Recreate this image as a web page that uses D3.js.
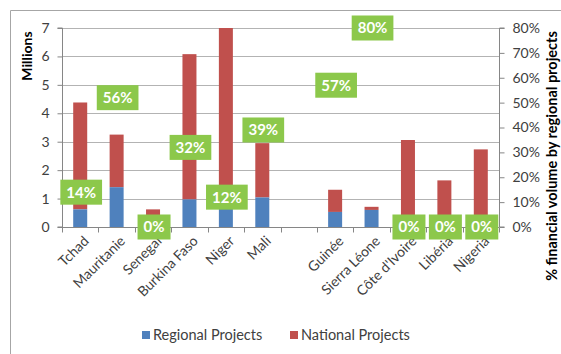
<!DOCTYPE html>
<html><head><meta charset="utf-8">
<script src="https://cdn.jsdelivr.net/npm/d3@7"></script>
<style>body{margin:0;background:#fff;overflow:hidden}svg{display:block}</style>
</head><body><svg id="c" width="561" height="354"></svg>
<script>
const categories = ["Tchad","Mauritanie","Senegal","Burkina Faso","Niger","Mali","","Guinée","Sierra Léone","Côte d'Ivoire","Libéria","Nigeria"];
const regional = [0.62, 1.40, 0, 0.97, 0.80, 1.04, null, 0.53, 0.60, 0, 0, 0];
const total    = [4.38, 3.25, 0.62, 6.08, 7.00, 2.95, null, 1.31, 0.71, 3.06, 1.64, 2.73];
const pctLabels = ["14%","56%","0%","32%","12%","39%",null,"57%","80%","0%","0%","0%"];
const pctPoints = [0.14, 0.52, 0, 0.32, 0.12, 0.39, null, 0.57, 0.80, 0, 0, 0];
const leftTicks = [0,1,2,3,4,5,6,7];
const rightTicks = [0,0.1,0.2,0.3,0.4,0.5,0.6,0.7,0.8];

const FONT = "Lato, 'Open Sans', sans-serif";
const svg = d3.select("#c");
const L = 62, R = 499, T = 28, B = 227;

// frame
svg.append("path").attr("d","M10.5,354 V10.5 H561").attr("fill","none").attr("stroke","#a6a6a6").attr("stroke-width",1);

const x = d3.scaleBand().domain(d3.range(categories.length)).range([L, R]);
const y = d3.scaleLinear().domain([0, 7]).range([B, T]);
const y2 = d3.scaleLinear().domain([0, 0.8]).range([B, T]);

// gridlines
svg.append("g").selectAll("line").data(leftTicks.filter(d => d > 0)).join("line")
  .attr("x1", L).attr("x2", R).attr("y1", d => Math.round(y(d)) + 0.5).attr("y2", d => Math.round(y(d)) + 0.5)
  .attr("stroke", "#b3b3b3");

// bars
const bw = 14;
const data = categories.map((c, i) => ({i, c, reg: regional[i], tot: total[i]})).filter(d => d.tot != null);
svg.append("g").selectAll("rect").data(data).join("rect")
  .attr("x", d => x(d.i) + x.bandwidth()/2 - bw/2).attr("width", bw)
  .attr("y", d => y(d.tot)).attr("height", d => y(d.reg) - y(d.tot))
  .attr("fill", "#c0504d");
svg.append("g").selectAll("rect").data(data.filter(d => d.reg > 0)).join("rect")
  .attr("x", d => x(d.i) + x.bandwidth()/2 - bw/2).attr("width", bw)
  .attr("y", d => y(d.reg)).attr("height", d => y(0) - y(d.reg))
  .attr("fill", "#4f81bd");

// left axis
const gl = svg.append("g").attr("transform", `translate(${L + 0.5},0)`)
  .call(d3.axisLeft(y).tickValues(leftTicks).tickSize(5).tickPadding(8).tickFormat(d3.format("d")));
gl.select(".domain").attr("stroke", "#868686").attr("d", `M-5,${B}H0V${T}H-5`);
gl.selectAll(".tick line").attr("stroke", "#868686");
gl.selectAll(".tick text").attr("font-family", FONT).attr("font-size", 14).attr("fill", "#404040");

// right axis
const gr = svg.append("g").attr("transform", `translate(${R + 0.5},0)`)
  .call(d3.axisRight(y2).tickValues(rightTicks).tickSize(5).tickPadding(8).tickFormat(d3.format(".0%")));
gr.select(".domain").attr("stroke", "#868686").attr("d", `M5,${B}H0V${T}H5`);
gr.selectAll(".tick line").attr("stroke", "#868686");
gr.selectAll(".tick text").attr("font-family", FONT).attr("font-size", 14).attr("fill", "#404040");

// x axis
const gx = svg.append("g").attr("transform", `translate(0,${B + 0.5})`);
gx.append("line").attr("x1", L).attr("x2", R).attr("stroke", "#868686");
gx.selectAll("line.t").data(d3.range(categories.length + 1)).join("line").attr("class","t")
  .attr("x1", i => Math.round(L + i * x.step()) + 0.5).attr("x2", i => Math.round(L + i * x.step()) + 0.5)
  .attr("y1", 0).attr("y2", 5).attr("stroke", "#868686");
gx.selectAll("text").data(categories.map((c,i)=>({c,i})).filter(d => d.c)).join("text")
  .attr("transform", d => `translate(${x(d.i) + x.bandwidth()/2 + 6},${11}) rotate(-45)`)
  .attr("text-anchor", "end").attr("dy", "0.35em")
  .attr("font-family", FONT).attr("font-size", 14).attr("fill", "#404040")
  .text(d => d.c);

// axis titles
svg.append("text").attr("transform", `translate(32,${56}) rotate(-90)`)
  .attr("text-anchor", "middle").attr("font-family", FONT).attr("font-weight", "bold")
  .attr("font-size", 14).attr("fill", "#000").text("Millions");
svg.append("text").attr("transform", `translate(557,${156}) rotate(-90)`)
  .attr("text-anchor", "middle").attr("font-family", FONT).attr("font-weight", "bold")
  .attr("font-size", 14.5).attr("fill", "#000").text("% financial volume by regional projects");

// percentage labels
const lab = svg.append("g").selectAll("g")
  .data(pctLabels.map((t,i)=>({t, i, p: pctPoints[i]})).filter(d => d.t != null)).join("g")
  .attr("transform", d => `translate(${x(d.i) + x.bandwidth()/2 + 1},${y2(d.p)})`);
lab.append("rect").attr("fill", "#8cc84b");
lab.append("text").attr("text-anchor", "middle").attr("dy", "0.36em")
  .attr("font-family", FONT).attr("font-weight", "bold").attr("font-size", 15).attr("fill", "#fff")
  .text(d => d.t);
lab.each(function() {
  const g = d3.select(this);
  const w = g.select("text").node().getComputedTextLength();
  g.select("rect").attr("x", -w/2 - 6).attr("width", w + 12).attr("y", -12.5).attr("height", 25);
});

// legend
const legend = [{n:"Regional Projects", c:"#4f81bd", x:142}, {n:"National Projects", c:"#c0504d", x:290}];
const lg = svg.append("g").selectAll("g").data(legend).join("g").attr("transform", d => `translate(${d.x},331)`);
lg.append("rect").attr("width", 8).attr("height", 8).attr("fill", d => d.c);
lg.append("text").attr("x", 11).attr("y", 4).attr("dy", "0.36em")
  .attr("font-family", FONT).attr("font-size", 14.5).attr("fill", "#404040").text(d => d.n);
</script></body></html>
